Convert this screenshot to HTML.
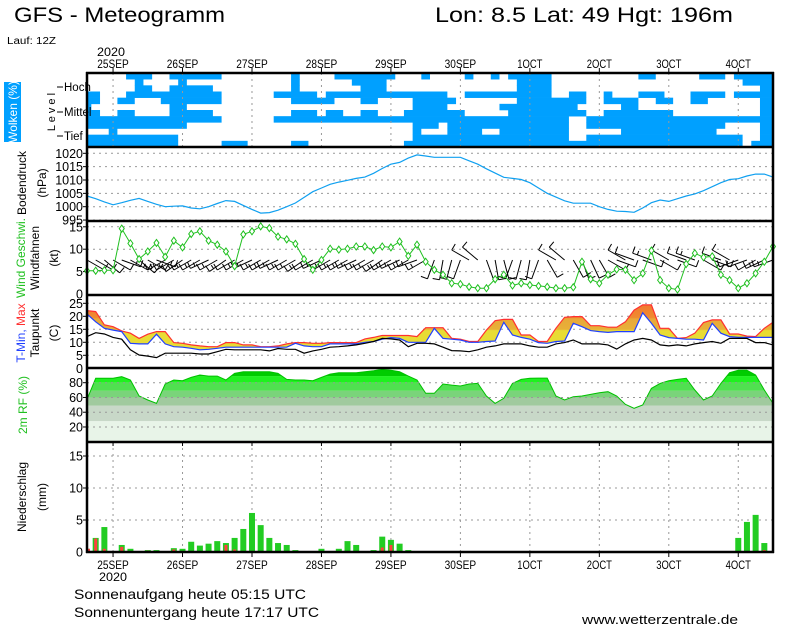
<!DOCTYPE html>
<html><head><meta charset="utf-8"><style>
html,body{margin:0;padding:0;background:#fff;}
svg{display:block;font-family:"Liberation Sans",sans-serif;}
</style></head><body>
<svg id="m" width="800" height="625" viewBox="0 0 800 625" xmlns="http://www.w3.org/2000/svg">
<defs>
<linearGradient id="tg" gradientUnits="userSpaceOnUse" x1="0" y1="368.3" x2="0" y2="303.3">
<stop offset="0" stop-color="#e8dc34"/><stop offset="0.58" stop-color="#e8dc34"/>
<stop offset="0.6" stop-color="#e8b038"/><stop offset="0.76" stop-color="#e8a838"/>
<stop offset="0.78" stop-color="#f08a30"/><stop offset="1" stop-color="#f07830"/>
</linearGradient>
<clipPath id="rhclip"><path id="rhclippath" d=""/></clipPath>
</defs>
<g id="layer"></g>
</svg>
<script>
const pressure=[1004.0,1003.0,1001.8,1000.7,1001.5,1002.4,1003.1,1002.0,1000.9,1000.0,1000.2,1000.3,999.5,999.2,1000.0,1001.2,1002.3,1002.0,1000.5,999.0,997.6,997.8,998.7,1000.0,1001.4,1003.5,1005.6,1007.0,1008.4,1009.2,1009.9,1010.6,1011.1,1012.5,1014.3,1015.9,1016.6,1018.2,1019.4,1019.0,1018.5,1018.5,1018.5,1018.5,1017.2,1015.9,1014.2,1012.6,1011.0,1010.6,1010.2,1009.0,1007.0,1005.0,1003.6,1002.2,1001.3,1001.3,1001.3,1000.0,999.0,998.3,998.2,997.9,999.5,1001.5,1002.5,1002.0,1003.0,1004.0,1004.8,1006.0,1007.5,1009.0,1010.2,1010.5,1011.5,1012.2,1012.2,1011.1];
const windSpeed=[5.2,5.2,5.3,5.3,14.6,11.3,7.8,9.5,11.4,8.3,11.9,10.4,13.4,14.0,11.9,11.0,9.5,6.2,13.3,14.0,15.1,14.7,12.8,12.2,11.2,7.8,5.4,7.6,10.1,9.9,10.1,10.6,10.6,9.8,10.6,10.4,11.7,8.5,11.0,7.2,5.4,4.3,2.4,2.2,1.6,1.3,1.3,3.3,4.3,1.9,2.4,2.0,1.8,1.6,1.3,1.3,1.5,7.2,3.3,2.4,4.3,5.5,5.4,3.1,4.6,9.7,3.1,1.3,1.0,6.7,9.1,8.2,8.4,4.3,3.1,1.3,2.4,4.6,7.2,10.6];
const windDir=[120,120,130,120,110,120,130,120,110,240,240,235,240,240,245,240,235,240,240,245,240,240,245,240,240,235,240,245,240,240,240,245,240,240,235,240,245,240,250,240,200,190,195,200,300,310,160,170,165,200,195,190,200,150,300,310,150,160,155,150,120,110,300,290,110,290,120,300,110,290,290,120,110,290,300,250,250,240,245,250];
const tMax=[22.2,21.8,16.7,16.0,14.4,13.5,11.5,13.1,14.1,14.1,9.9,9.6,9.0,8.6,8.3,8.3,9.9,9.9,9.0,9.0,8.3,8.3,8.6,9.4,9.9,9.9,9.6,9.6,9.9,9.9,9.9,9.9,11.3,11.9,12.6,12.6,12.6,12.6,12.2,15.6,15.6,15.6,11.5,11.2,10.3,10.3,14.7,18.3,18.8,18.8,12.8,12.8,10.3,10.3,15.4,19.6,19.9,19.9,16.4,16.4,15.8,15.8,17.9,22.4,24.4,24.4,15.4,15.4,11.5,11.8,13.5,17.6,18.6,18.6,13.2,13.2,12.4,12.2,15.4,17.7];
const tMin=[20.9,17.9,15.4,14.7,14.1,9.6,9.4,9.4,13.1,9.4,8.3,8.1,7.7,7.1,7.3,7.7,8.1,8.1,8.1,8.1,8.1,8.1,8.1,8.1,9.6,8.6,8.3,8.3,9.4,9.4,9.4,9.4,10.0,10.3,11.2,11.8,11.5,10.0,10.0,10.0,15.4,11.5,11.2,10.9,10.0,10.0,10.3,10.5,17.7,12.8,11.9,11.2,9.9,9.6,10.3,10.5,17.3,16.0,14.5,14.1,13.8,14.1,14.1,14.1,21.4,17.3,12.8,11.8,11.5,11.2,11.2,10.9,17.3,13.5,12.2,11.9,11.9,11.9,11.9,11.9];
const dewPoint=[12.2,13.7,13.2,11.9,11.2,7.1,5.1,4.7,4.1,5.8,5.8,5.8,5.8,5.5,5.5,6.4,7.3,7.1,7.1,7.1,7.1,6.7,7.6,7.3,7.3,5.8,6.7,7.3,8.1,8.3,8.6,9.0,9.6,10.3,11.5,11.3,10.9,8.3,9.6,9.6,9.4,8.1,6.8,6.7,6.4,7.1,8.1,8.6,9.4,9.4,9.4,8.6,8.1,8.1,9.4,9.9,10.9,9.4,9.4,9.4,9.0,7.4,9.4,10.9,11.5,10.9,9.0,8.6,9.0,8.6,9.4,9.9,10.3,9.6,11.5,11.5,11.5,9.9,9.9,9.0];
const relHum=[57.4,85.9,85.9,85.9,88.1,83.6,62,56.5,52,78.2,83.6,82.7,87.2,90.4,89,89,83.6,92.6,94.9,94.9,94.9,94.9,92.6,84.5,83.6,83.6,82.7,87.2,91.7,93.5,93.5,93.5,94.9,96.2,98,97,94.9,89,83.6,65.6,65.6,78.2,76.8,75.5,78.2,79.1,62,52,58.8,79.1,84.5,85.9,86.3,86.3,62,56.5,61,62,64.2,66.5,67.8,62,50.7,45.3,49.8,72.3,79.1,82.7,84.5,85.9,70.1,56.5,62,79.1,93.5,97,97,90.4,70.1,52];
const precip=[0.5,2.2,3.9,0,1.1,0.5,0.15,0.3,0.3,0.15,0.6,0.5,1.6,1.0,1.3,1.7,1.4,2.2,3.6,6.1,4.2,2.2,1.4,1.1,0.3,0,0,0.5,0,0.5,1.7,1.1,0,0.3,2.4,1.9,1.3,0.3,0,0,0,0,0,0,0,0,0,0,0,0,0,0,0,0,0,0,0,0,0,0,0,0,0,0,0,0,0,0,0,0,0,0,0,0,0,2.2,4.7,5.8,1.4,0];
const convPrecip=[0.5,2.1,0.5,0,0.8,0,0,0.2,0,0,0.4,0,0,0,0,0,1.1,0.4,0,0,0,0,0,0,0,0,0,0,0,0,0,0,0,0,0.7,1.1,0,0,0,0,0,0,0,0,0,0,0,0,0,0,0,0,0,0,0,0,0,0,0,0,0,0,0,0,0,0,0,0,0,0,0,0,0,0,0,0,0,0,0.3,0];
const cloudRows=[
[[5,7],[10,15],[24,24],[29,35],[39,39],[44,44],[47,47],[49,53],[64,65],[71,73],[75,79]],
[[6,6],[11,11],[24,24],[31,34],[50,53],[76,79]],
[[6,7],[10,14],[24,24],[32,34],[50,53],[78,79]],
[[0,1],[5,15],[22,26],[28,41],[44,53],[56,57],[60,60],[64,66],[70,73],[75,79]],
[[0,1],[4,5],[9,15],[24,28],[32,33],[38,42],[50,57],[60,63],[66,67],[70,71],[78,79]],
[[0,0],[10,11],[38,41],[48,56],[62,63],[78,79]],
[[0,1],[4,5],[10,14],[24,26],[28,29],[32,33],[37,43],[49,57],[60,67],[78,79]],
[[0,15],[22,55],[58,79]],
[[0,11],[38,40],[42,55],[58,73],[78,79]],
[[3,3],[38,38],[42,45],[48,55],[62,72],[78,79]],
[[0,10],[38,55],[58,75],[78,79]],
[[0,10],[16,18],[24,25],[37,75],[77,79]]];
const dayLabels=["25SEP","26SEP","27SEP","28SEP","29SEP","30SEP","1OCT","2OCT","3OCT","4OCT"];
const pTicks=[1020,1015,1010,1005,1000,995];
const wTicks=[15,10,5,0];
const tTicks=[25,20,15,10,5,0];
const rhTicks=[80,60,40,20];
const prTicks=[15,10,5,0];

const NS="http://www.w3.org/2000/svg";
const L=document.getElementById('layer');
const X0=87,X1=773,N=pressure.length;
const xs=i=>X0+i*(X1-X0)/(N-1);
const yP=v=>206.7-(v-1000)*2.67;
const yW=v=>294-v*4.48;
const yT=v=>368.3-v*2.6;
const yR=v=>382.7-(v-80)*0.738;
const yPr=v=>552-v*6.4;
function el(tag,attrs,parent){const e=document.createElementNS(NS,tag);for(const k in attrs)e.setAttribute(k,attrs[k]);(parent||L).appendChild(e);return e;}
function txt(s,x,y,size,opts){const e=el('text',Object.assign({x:x,y:y,'font-size':size},opts||{}));e.textContent=s;return e;}
function pts(arr,fy){return arr.map((v,i)=>xs(i).toFixed(1)+','+fy(v).toFixed(1)).join(' ');}

const cw=(X1-X0)/(N-1), rh=74/12;
cloudRows.forEach((row,r)=>{row.forEach(rg=>{
  const x1=Math.max(X0,xs(rg[0])-cw/2), x2=Math.min(X1,xs(rg[1])+cw/2);
  const c=el('rect',{x:x1,y:73+r*rh,width:x2-x1,height:rh+0.3,fill:'#00a0ff'});
  
  
});});

const rhArea='M'+xs(0)+',442 L'+pts(relHum,yR).split(' ').join(' L')+' L'+xs(N-1)+',442 Z';
document.getElementById('rhclippath').setAttribute('d',rhArea);
const bands=[[0,28,'#e8f4e8'],[28,49,'#c8d8c8'],[49,60,'#a0ca9e'],[60,69,'#7ad47a'],[69,80,'#50e050'],[80,89,'#20f020'],[89,101,'#00cc00']];
const gb=el('g',{'clip-path':'url(#rhclip)'});


bands.forEach(b=>{el('rect',{x:X0,y:yR(b[1]),width:X1-X0,height:yR(b[0])-yR(b[1]),fill:b[2]},gb);});
const rhl=el('polyline',{points:pts(relHum,yR),fill:'none',stroke:'#00c000','stroke-width':1});



function hgrid(vals,fy){vals.forEach(v=>{el('line',{x1:X0,x2:X1,y1:fy(v),y2:fy(v),stroke:'#999','stroke-dasharray':'2,4'});el('line',{x1:X0-4,x2:X0,y1:fy(v),y2:fy(v),stroke:'#000'});});}
hgrid(pTicks,yP);hgrid(wTicks.slice(0,3),yW);hgrid(tTicks.slice(0,5),yT);hgrid(rhTicks,yR);hgrid(prTicks.slice(0,3),yPr);
dayLabels.forEach((d,k)=>{const x=xs(3+8*k);
  el('line',{x1:x,x2:x,y1:73,y2:147,stroke:'#999','stroke-dasharray':'2,4'});
  el('line',{x1:x,x2:x,y1:442,y2:552,stroke:'#999','stroke-dasharray':'2,4'});
  el('line',{x1:x,x2:x,y1:68,y2:73,stroke:'#000'});
  el('line',{x1:x,x2:x,y1:552,y2:557,stroke:'#000'});
  el('line',{x1:x,x2:x,y1:442,y2:446,stroke:'#000'});
  const t1=txt(d,x,68,12,{'text-anchor':'middle',textLength:d.length*6.3,lengthAdjust:'spacingAndGlyphs'});
  
  
  const t2=txt(d,x,569,12,{'text-anchor':'middle',textLength:d.length*6.3,lengthAdjust:'spacingAndGlyphs'});
  
  
});

const pl=el('polyline',{points:pts(pressure,yP),fill:'none',stroke:'#10a0f0','stroke-width':1.2});



windDir.forEach((d,i)=>{const x=xs(i),y=260,len=20,a=d*Math.PI/180;
  const ex=x+Math.sin(a)*len, ey=y-Math.cos(a)*len;
  const g=el('g',{stroke:'#000','stroke-width':1,fill:'none'});
  
  
  el('line',{x1:x,y1:y,x2:ex,y2:ey},g);
  const sgn=(d>180)?1:-1;
  const px=Math.cos(a)*7*sgn, py=Math.sin(a)*7*sgn;
  el('line',{x1:ex,y1:ey,x2:ex+px,y2:ey+py},g);
  if(windSpeed[i]>7){const mx=x+Math.sin(a)*len*0.75,my=y-Math.cos(a)*len*0.75;el('line',{x1:mx,y1:my,x2:mx+px*0.6,y2:my+py*0.6},g);}
});
const wl=el('polyline',{points:pts(windSpeed,yW),fill:'none',stroke:'#20c020','stroke-width':1});


windSpeed.forEach((v,i)=>{const x=xs(i),y=yW(v);
  const m=el('path',{d:`M${x},${y-3.5}L${x+2.5},${y}L${x},${y+3.5}L${x-2.5},${y}Z`,fill:'#fff',stroke:'#20c020','stroke-width':1});
  
  
});

const tband=el('polygon',{points:pts(tMax,yT)+' '+tMin.map((v,i)=>xs(i).toFixed(1)+','+yT(v).toFixed(1)).reverse().join(' '),fill:'url(#tg)'});


[[tMax,'#ff3030','tmax-line'],[tMin,'#2040ff','tmin-line'],[dewPoint,'#000','dewpoint-line']].forEach(s=>{
  const p=el('polyline',{points:pts(s[0],yT),fill:'none',stroke:s[1],'stroke-width':1.2});
  
  
});

precip.forEach((v,i)=>{if(v<=0)return;const x=xs(i);
  const x1=Math.max(X0,x-3), x2=Math.min(X1,x+3);
  const b=el('rect',{x:x1,y:yPr(v),width:x2-x1,height:552-yPr(v),fill:'#22cc22'});
  
  
});
convPrecip.forEach((v,i)=>{if(v<=0)return;const x=xs(i);
  const x1=Math.max(X0,x-1.5);
  const b=el('rect',{x:x1,y:yPr(v),width:3,height:552-yPr(v),fill:'#ff4040'});
  
  
});

[73,147,221,295,368,442,552].forEach(y=>el('line',{x1:X0-1,x2:X1+1,y1:y,y2:y,stroke:'#000','stroke-width':2.5}));
el('line',{x1:X0,x2:X0,y1:72,y2:553,stroke:'#000','stroke-width':2.5});
el('line',{x1:X1,x2:X1,y1:72,y2:553,stroke:'#000','stroke-width':2.5});

function tl(vals,fy,name){vals.forEach(v=>{const t=txt(String(v),83,fy(v)+4.5,12.5,{'text-anchor':'end'});});}
tl(pTicks,yP,'pressure-tick-label');tl(wTicks,yW,'wind-tick-label');tl(tTicks,yT,'temp-tick-label');tl(rhTicks,yR,'rh-tick-label');tl(prTicks,yPr,'precip-tick-label');

function vt(s,x,y,size,col,name){const t=txt(s,0,0,size,{'text-anchor':'middle',fill:col,transform:`translate(${x},${y}) rotate(-90)`});return t;}
el('rect',{x:4,y:82,width:17,height:60,fill:'#00a0ff'});
vt('Wolken (%)',17,112,12,'#fff','clouds-axis-title');
vt('L e v e l',55,112,11,'#000','level-axis-title');
[['Hoch',87],['Mittel',112],['Tief',136]].forEach(a=>{const t=txt(a[0],64,a[1]+4,11.5,{});el('line',{x1:57,x2:63,y1:a[1],y2:a[1],stroke:'#000'});});
vt('Bodendruck',26,183,12,'#000','pressure-axis-title');
vt('(hPa)',46,183,12,'#000','pressure-unit');
const w1=txt('',0,0,12,{'text-anchor':'middle',transform:'translate(25,258) rotate(-90)'});
w1.innerHTML='<tspan fill="#20c020">Wind Geschwi.</tspan>';


vt('Windfahnen',39,258,12,'#000','windvane-axis-title');
vt('(kt)',58,258,12,'#000','wind-unit');
const t1=txt('',0,0,12,{'text-anchor':'middle',transform:'translate(25,333) rotate(-90)'});
t1.innerHTML='<tspan fill="#2040ff">T-Min, </tspan><tspan fill="#ff3030">Max</tspan>';


vt('Taupunkt',39,333,12,'#000','dewpoint-axis-title');
vt('(C)',58,333,12,'#000','temp-unit');
vt('2m RF (%)',27,405,12,'#20c020','rh-axis-title');
vt('Niederschlag',26,497,12,'#000','precip-axis-title');
vt('(mm)',46,497,12,'#000','precip-unit');

function ht(s,x,y,size,name,len){const t=txt(s,x,y,size,len?{textLength:len,lengthAdjust:'spacingAndGlyphs'}:{});}
ht('GFS - Meteogramm',14,22,21,'chart-title',211);
ht('Lon: 8.5 Lat: 49 Hgt: 196m',435,22,21,'location-info',298);
ht('Lauf: 12Z',7,44,10,'run-label',49);
ht('2020',97,56,12,'top-year-label',28);
ht('2020',99,581,12,'bottom-year-label',28);
ht('Sonnenaufgang heute 05:15 UTC',74,599,14,'sunrise-text',232);
ht('Sonnenuntergang heute 17:17 UTC',74,617,14,'sunset-text',245);
ht('www.wetterzentrale.de',582,624,13,'source-credit',156);
</script>
</body></html>
